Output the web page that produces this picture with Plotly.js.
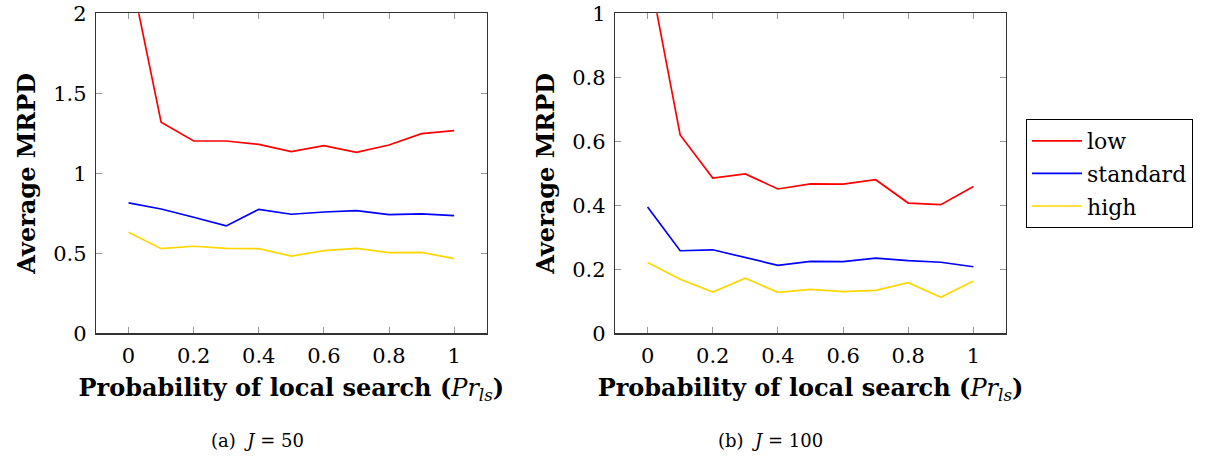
<!DOCTYPE html>
<html><head><meta charset="utf-8">
<script src="https://cdn.plot.ly/plotly-3.0.1.min.js"></script>
<style>html,body{margin:0;padding:0;background:#fff}#chart{width:1219px;height:461px}</style>
</head><body><div id="chart"></div>
<script>
const prLs = [0, 0.1, 0.2, 0.3, 0.4, 0.5, 0.6, 0.7, 0.8, 0.9, 1.0];
const seriesNames = ["low", "standard", "high"];
// J = 50
const low50 = [2.31, 1.319, 1.202, 1.202, 1.181, 1.135, 1.173, 1.131, 1.177, 1.248, 1.267];
const standard50 = [0.815, 0.777, 0.725, 0.671, 0.775, 0.744, 0.758, 0.767, 0.742, 0.746, 0.735];
const high50 = [0.631, 0.529, 0.544, 0.531, 0.529, 0.483, 0.517, 0.531, 0.504, 0.506, 0.467];
// J = 100
const low100 = [1.153, 0.620, 0.485, 0.498, 0.451, 0.467, 0.466, 0.480, 0.407, 0.402, 0.459];
const standard100 = [0.395, 0.258, 0.261, 0.2375, 0.2125, 0.225, 0.224, 0.235, 0.227, 0.222, 0.208];
const high100 = [0.221, 0.169, 0.129, 0.172, 0.128, 0.1375, 0.130, 0.134, 0.158, 0.1125, 0.1635];
const xTickVals = [0, 0.2, 0.4, 0.6, 0.8, 1];
const xTickText = ["0", "0.2", "0.4", "0.6", "0.8", "1"];
const yTickVals50 = [0, 0.5, 1, 1.5, 2];
const yTickText50 = ["0", "0.5", "1", "1.5", "2"];
const yTickVals100 = [0, 0.2, 0.4, 0.6, 0.8, 1];
const yTickText100 = ["0", "0.2", "0.4", "0.6", "0.8", "1"];
const subCaptions = ["(a)\u00a0\u00a0<i>J</i>\u00a0=\u00a050", "(b)\u00a0\u00a0<i>J</i>\u00a0=\u00a0100"];
const xTitle = "<b>Probability of local search (</b><i>Pr</i><sub><i>ls</i></sub><b>)</b>";
const yTitle = "<b>Average MRPD</b>";

const colors = ["#ff0000", "#0000ff", "#ffd700"];
const serif = "'DejaVu Serif', 'Liberation Serif', serif";

const data50 = [low50, standard50, high50];
const data100 = [low100, standard100, high100];
const traces = [];
data50.forEach((ys, i) => traces.push({
  x: prLs, y: ys, type: "scatter", mode: "lines", name: seriesNames[i],
  line: {color: colors[i], width: 1.7}, xaxis: "x", yaxis: "y",
  showlegend: false, legendgroup: seriesNames[i]
}));
data100.forEach((ys, i) => traces.push({
  x: prLs, y: ys, type: "scatter", mode: "lines", name: seriesNames[i],
  line: {color: colors[i], width: 1.7}, xaxis: "x2", yaxis: "y2",
  showlegend: true, legendgroup: seriesNames[i]
}));

function xAxis(domain, anchor) {
  return {
    domain: domain, anchor: anchor, range: [-0.1, 1.1],
    tickvals: xTickVals, ticktext: xTickText,
    ticks: "inside", ticklen: 6, tickcolor: "#999", tickwidth: 1,
    mirror: "ticks", showline: true, linecolor: "#333", linewidth: 1.2,
    showgrid: false, zeroline: false, automargin: false,
    tickfont: {family: serif, size: 21, color: "#000"},
    ticklabelstandoff: 3,
    title: {text: xTitle, font: {family: serif, size: 24, color: "#000"}, standoff: 12}
  };
}
function yAxis(domain, anchor, range, vals, text) {
  return {
    domain: domain, anchor: anchor, range: range,
    tickvals: vals, ticktext: text,
    ticks: "inside", ticklen: 6, tickcolor: "#999", tickwidth: 1,
    mirror: "ticks", showline: true, linecolor: "#333", linewidth: 1.2,
    showgrid: false, zeroline: false, automargin: false,
    tickfont: {family: serif, size: 21, color: "#000"},
    ticklabelstandoff: 4,
    title: {text: yTitle, font: {family: serif, size: 24, color: "#000"}, standoff: 10}
  };
}

const yDom = [1 - 333.3 / 461, 1 - 13.3 / 461];
const layout = {
  width: 1219, height: 461,
  margin: {l: 0, r: 0, t: 0, b: 0},
  paper_bgcolor: "#fff", plot_bgcolor: "#fff",
  xaxis: xAxis([96 / 1219, 486.7 / 1219], "y"),
  yaxis: yAxis(yDom, "x", [0, 2], yTickVals50, yTickText50),
  xaxis2: xAxis([615 / 1219, 1006 / 1219], "y2"),
  yaxis2: yAxis(yDom, "x2", [0, 1], yTickVals100, yTickText100),
  showlegend: true,
  legend: {
    x: 1026 / 1219, y: 1 - 119 / 461, xanchor: "left", yanchor: "top",
    bordercolor: "#000", borderwidth: 1, bgcolor: "#fff",
    font: {family: serif, size: 22, color: "#000"},
    tracegroupgap: 1, itemwidth: 50
  },
  annotations: [
    {text: subCaptions[0], xref: "paper", yref: "paper", x: 257 / 1219, y: 1 - 440 / 461,
     xanchor: "center", yanchor: "middle", showarrow: false, font: {family: serif, size: 18, color: "#000"}},
    {text: subCaptions[1], xref: "paper", yref: "paper", x: 770 / 1219, y: 1 - 440 / 461,
     xanchor: "center", yanchor: "middle", showarrow: false, font: {family: serif, size: 18, color: "#000"}}
  ]
};
Plotly.newPlot("chart", traces, layout, {staticPlot: true, displayModeBar: false});
</script>
</body></html>
